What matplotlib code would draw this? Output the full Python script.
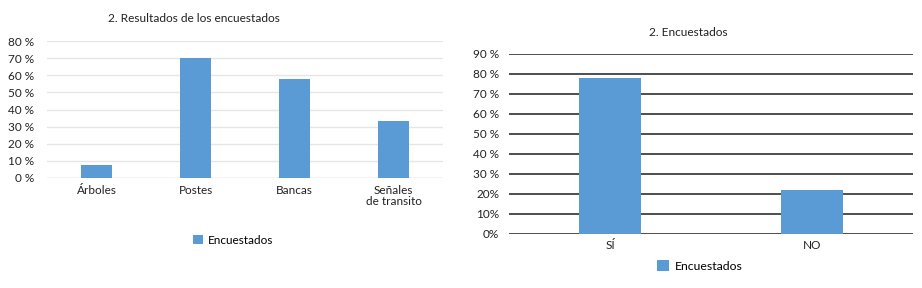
import matplotlib
matplotlib.use("Agg")
import matplotlib.pyplot as plt
import numpy as np

plt.rcParams['font.family'] = ['Lato', 'DejaVu Sans']

# left chart data
cats_left = ["Árboles", "Postes", "Bancas", "Señales\nde transito"]
vals_left = [7.5, 70, 58, 33]
yticks_left = [0, 10, 20, 30, 40, 50, 60, 70, 80]
ylabels_left = ["0 %", "10 %", "20 %", "30 %", "40 %", "50 %", "60 %", "70 %", "80 %"]

# right chart data
cats_right = ["SÍ", "NO"]
vals_right = [78, 22]
yticks_right = [0, 10, 20, 30, 40, 50, 60, 70, 80, 90]
ylabels_right = ["0%", "10%", "20%", "30 %", "40 %", "50 %", "60 %", "70 %", "80 %", "90 %"]

blue = "#5b9bd5"
W, H = 922, 288
fig = plt.figure(figsize=(W / 100, H / 100), dpi=100)


def rect(x0, y0, x1, y1):
    # pixel box (top-left origin) -> figure fraction
    return [x0 / W, 1 - y1 / H, (x1 - x0) / W, (y1 - y0) / H]


# ---- left chart ----
ax1 = fig.add_axes(rect(47, 41, 443, 178))
x = np.arange(len(cats_left))
bars1 = ax1.bar(x, vals_left, width=0.32, color=blue, zorder=3, label="Encuestados")
ax1.set_xlim(-0.5, len(cats_left) - 0.5)
ax1.set_ylim(0, 80)
ax1.set_yticks(yticks_left)
ax1.set_yticklabels(ylabels_left)
ax1.set_xticks(x)
ax1.set_xticklabels(cats_left, linespacing=1.0)
ax1.grid(axis="y", color="#e6e6e6", linewidth=1, zorder=0)
for s in ax1.spines.values():
    s.set_visible(False)
ax1.axhline(0, color="#d9d9d9", linewidth=1, zorder=2)
ax1.tick_params(length=0, labelsize=8.5, colors="#222222")
ax1.tick_params(axis="y", pad=9)
ax1.tick_params(axis="x", pad=5)
fig.text(194 / W, 1 - 19 / H, "2. Resultados de los encuestados", ha="center",
         va="center", fontsize=8.6, color="#222222")
fig.legend(handles=[bars1], loc="center", bbox_to_anchor=(233 / W, 1 - 240 / H),
           frameon=False, fontsize=8.5, handlelength=0.8, handleheight=0.8,
           handletextpad=0.4)

# ---- right chart ----
ax2 = fig.add_axes(rect(509, 54, 913, 234))
x2 = np.arange(len(cats_right))
bars2 = ax2.bar(x2, vals_right, width=0.31, color=blue, zorder=3, label="Encuestados")
ax2.set_xlim(-0.5, len(cats_right) - 0.5)
ax2.set_ylim(0, 90)
ax2.set_yticks(yticks_right)
ax2.set_yticklabels(ylabels_right)
ax2.set_xticks(x2)
ax2.set_xticklabels(cats_right)
ax2.grid(axis="y", color="#404040", linewidth=1.3, zorder=0)
for s in ax2.spines.values():
    s.set_visible(False)
ax2.tick_params(length=0, labelsize=8.5, colors="#222222")
ax2.tick_params(axis="y", pad=7)
ax2.tick_params(axis="x", pad=4)
fig.text(688 / W, 1 - 33 / H, "2. Encuestados", ha="center", va="center",
         fontsize=8.6, color="#222222")
fig.legend(handles=[bars2], loc="center", bbox_to_anchor=(700 / W, 1 - 266 / H),
           frameon=False, fontsize=8.8, handlelength=1.0, handleheight=1.0,
           handletextpad=0.5)

fig.savefig("out.png", dpi=100)
